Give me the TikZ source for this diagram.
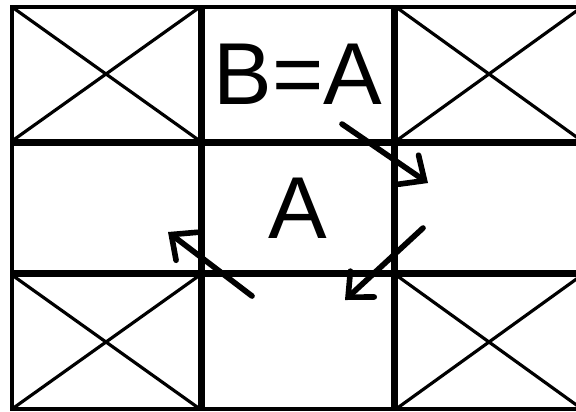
\documentclass[tikz,border=0pt]{standalone}
\usepackage{fontspec}
\setmainfont{Liberation Sans}
\usetikzlibrary{positioning,arrows.meta}

\begin{document}
\begin{tikzpicture}[x=0.01cm,y=-0.01cm,
    cell/.style={draw, line width=1.05pt, inner sep=0pt, outer sep=0pt,
      font=\fontsize{25}{30}\selectfont},
    turn/.style={line width=1.6pt, line cap=round,
      -{Straight Barb[length=5.5pt,width=10pt,line cap=round]}}]
  \useasboundingbox (0,0) rectangle (576,411);
  \clip (0,0) rectangle (576,411);

  % the 3x3 board
  \node[cell, minimum width=1.88cm, minimum height=1.34cm] (c11) at (106,74) {};
  \node[cell, minimum width=1.90cm, minimum height=1.34cm] (c12) at (298,74) {B=A};
  \node[cell, minimum width=1.86cm, minimum height=1.34cm] (c13) at (489,74) {};
  \node[cell, minimum width=1.88cm, minimum height=1.28cm] (c21) at (106,208) {};
  \node[cell, minimum width=1.90cm, minimum height=1.28cm] (c22) at (298,208) {A};
  \node[cell, minimum width=1.86cm, minimum height=1.28cm] (c23) at (489,208) {};
  \node[cell, minimum width=1.88cm, minimum height=1.34cm] (c31) at (106,342) {};
  \node[cell, minimum width=1.90cm, minimum height=1.34cm] (c32) at (298,342) {};
  \node[cell, minimum width=1.86cm, minimum height=1.34cm] (c33) at (489,342) {};

  % corners are crossed out
  \foreach \c in {c11,c13,c31,c33}
    \draw[line width=0.9pt] (\c.north west) -- (\c.south east)
                            (\c.north east) -- (\c.south west);

  % moves around A
  \coordinate (t1) at (342,124); \coordinate (h1) at (428,183);
  \coordinate (t2) at (423,228); \coordinate (h2) at (345,300);
  \coordinate (t3) at (252,296); \coordinate (h3) at (168,232);
  \draw[turn] (t1) -- (h1);
  \draw[turn] (t2) -- (h2);
  \draw[turn] (t3) -- (h3);
\end{tikzpicture}
\end{document}
